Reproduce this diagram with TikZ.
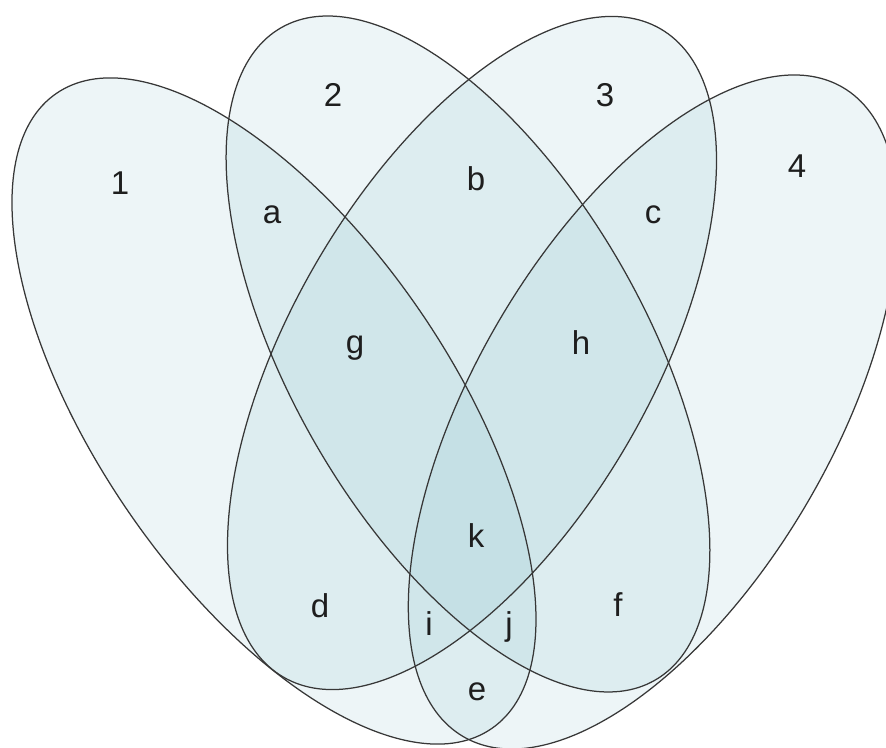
\documentclass[tikz,border=0pt]{standalone}
\usepackage{fontspec}
\setmainfont{Liberation Sans}
\definecolor{setfill}{RGB}{140,194,204}
\definecolor{setline}{RGB}{55,55,55}
\definecolor{lbltext}{RGB}{30,30,30}
\begin{document}
\begin{tikzpicture}[x=1pt,y=1pt,
  setshape/.style={fill=setfill, fill opacity=0.16},
  setedge/.style={draw=setline, line width=1.25pt},
  lbl/.style={font=\fontsize{33}{40}\selectfont, inner sep=0pt, text=lbltext}]
\useasboundingbox (0,0) rectangle (886,747);
\clip (0,0) rectangle (886,747);

% centres of the four sets
\coordinate (c1) at (274,336);
\coordinate (c2) at (468,393);
\coordinate (c3) at (472,394);
\coordinate (c4) at (653,335);

% translucent fills
\path[setshape, rotate around={-55.6:(c1)}] (c1) ellipse [x radius=385, y radius=177];
\path[setshape, rotate around={-60.2:(c2)}] (c2) ellipse [x radius=376, y radius=177];
\path[setshape, rotate around={59.8:(c3)}]  (c3) ellipse [x radius=375, y radius=180];
\path[setshape, rotate around={59.7:(c4)}]  (c4) ellipse [x radius=376, y radius=179];

% outlines
\draw[setedge, rotate around={-55.6:(c1)}] (c1) ellipse [x radius=385, y radius=177];
\draw[setedge, rotate around={-60.2:(c2)}] (c2) ellipse [x radius=376, y radius=177];
\draw[setedge, rotate around={59.8:(c3)}]  (c3) ellipse [x radius=375, y radius=180];
\draw[setedge, rotate around={59.7:(c4)}]  (c4) ellipse [x radius=376, y radius=179];

% set names
\node[lbl] (n1) at (120,564) {1};
\node[lbl] (n2) at (333,652) {2};
\node[lbl] (n3) at (605,652) {3};
\node[lbl] (n4) at (797,581) {4};

% region names
\node[lbl] (ra) at (272,532) {a};
\node[lbl] (rb) at (476,568) {b};
\node[lbl] (rc) at (653,532) {c};
\node[lbl] (rg) at (355,399) {g};
\node[lbl] (rh) at (581,404) {h};
\node[lbl] (rk) at (476,211) {k};
\node[lbl] (rd) at (320,141) {d};
\node[lbl] (ri) at (429,123) {i};
\node[lbl] (rj) at (509,120) {j};
\node[lbl] (rf) at (618,142) {f};
\node[lbl] (re) at (477,55)  {e};
\end{tikzpicture}
\end{document}
